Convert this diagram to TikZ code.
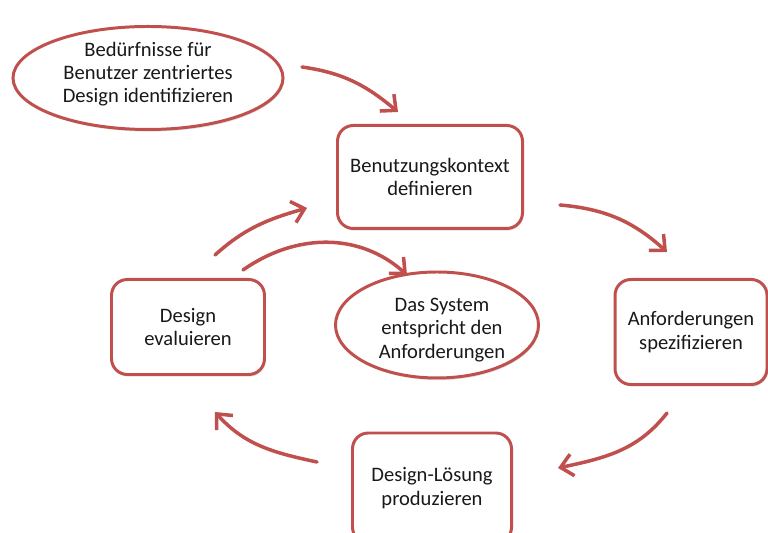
\documentclass[tikz,border=0pt]{standalone}
\usepackage{fontspec}
\setmainfont{Carlito}
\usepackage{tikz}
\usetikzlibrary{shapes.geometric,arrows.meta,shadows}

\definecolor{ucdred}{RGB}{192,80,77}

\begin{document}
\begin{tikzpicture}[
    every node/.style={align=center, font=\fontsize{11.7}{13.2}\selectfont, text=black!90},
    stepbox/.style={rectangle, rounded corners=9pt, draw=ucdred, line width=1.7pt, fill=white,
        drop shadow={opacity=0.25, shadow xshift=0.6pt, shadow yshift=-1.2pt}},
    oval/.style={ellipse, draw=ucdred, line width=1.7pt, fill=white, inner sep=0pt,
        drop shadow={opacity=0.25, shadow xshift=0.6pt, shadow yshift=-1.2pt}},
    flow/.style={draw=ucdred, line width=2pt, line cap=round,
        -{Straight Barb[length=2.4mm, width=4.4mm]}}
    ]

    \useasboundingbox (0,0) rectangle (15.36,10.66);

    % nodes
    \node[oval, minimum width=5.4cm, minimum height=2.06cm] (need) at (2.96,9.1) {};
    \node (needtext) at ([yshift=0.08cm]need.center)
        {Bedürfnisse für\\Benutzer zentriertes\\Design identifizieren};
    \node[stepbox, minimum width=3.7cm, minimum height=2.06cm] (context) at (8.6,7.12)
        {Benutzungskontext\\definieren};
    \node[stepbox, minimum width=3.04cm, minimum height=2.1cm] (spec) at (13.82,4.02)
        {Anforderungen\\spezifizieren};
    \node[stepbox, minimum width=3.18cm, minimum height=2.2cm] (solution) at (8.64,0.9)
        {Design-Lösung\\produzieren};
    \node[stepbox, minimum width=3.06cm, minimum height=1.9cm] (evaluate) at (3.76,4.12)
        {Design\\evaluieren};
    \node[oval, minimum width=4.06cm, minimum height=2.12cm] (system) at (8.74,4.16) {};
    \node (systemtext) at ([shift={(0.1cm,-0.1cm)}]system.center)
        {Das System\\entspricht den\\Anforderungen};

    % arrow ends
    \coordinate (a1) at (6.04,9.32);   \coordinate (b1) at (7.96,8.42);
    \coordinate (a2) at (11.2,6.56);   \coordinate (b2) at (13.34,5.62);
    \coordinate (a3) at (13.34,2.4);   \coordinate (b3) at (11.16,1.3);
    \coordinate (a4) at (6.34,1.42);   \coordinate (b4) at (4.3,2.42);
    \coordinate (a5) at (4.3,5.56);    \coordinate (b5) at (6.14,6.5);
    \coordinate (a6) at (4.86,5.26);   \coordinate (b6) at (8.14,5.16);

    \draw[flow] (a1) to[out=-8, in=140] (b1);
    \draw[flow] (a2) to[out=-5, in=138] (b2);
    \draw[flow] (a3) to[out=-128, in=12] (b3);
    \draw[flow] (a4) to[out=168, in=-48] (b4);
    \draw[flow] (a5) to[out=42, in=196] (b5);
    \draw[flow] (a6) to[out=35, in=138] (b6);

\end{tikzpicture}
\end{document}
